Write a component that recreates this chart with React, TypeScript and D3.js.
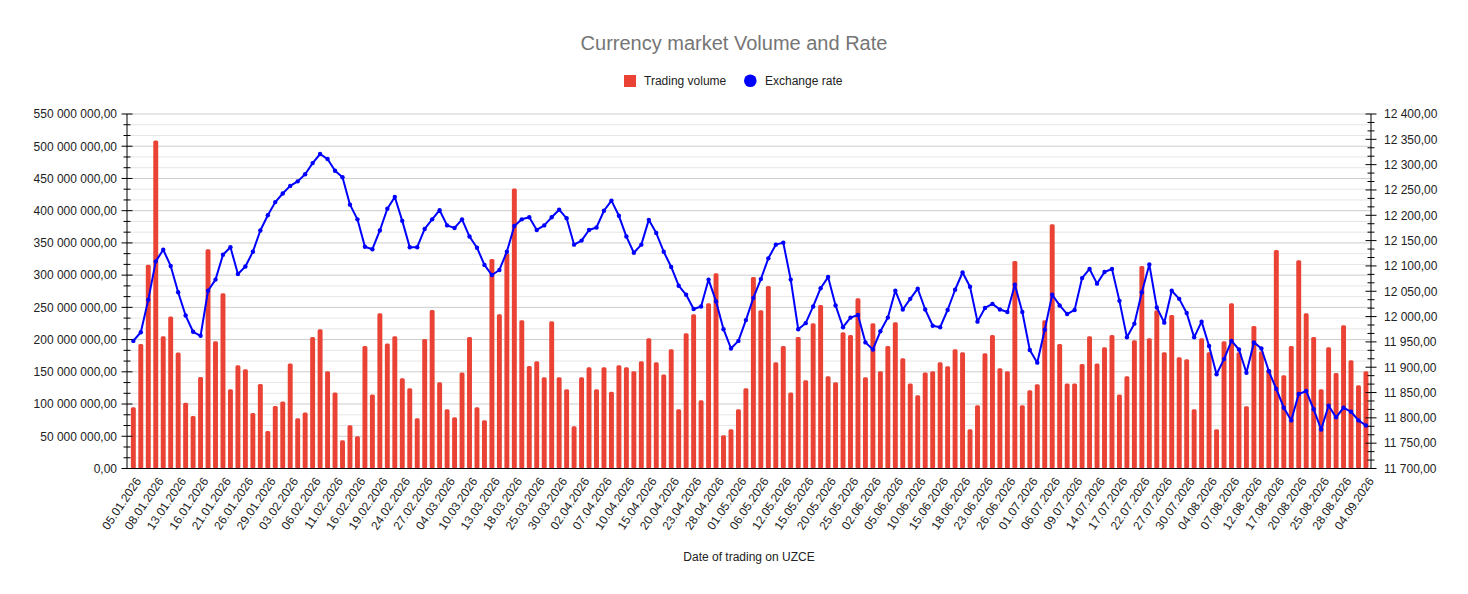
import React, { useEffect, useRef } from "react";
import * as d3 from "d3";

const tradeDates = [
  "05.01.2026", "06.01.2026", "07.01.2026", "08.01.2026", "09.01.2026", "12.01.2026",
  "13.01.2026", "14.01.2026", "15.01.2026", "16.01.2026", "19.01.2026", "20.01.2026",
  "21.01.2026", "22.01.2026", "23.01.2026", "26.01.2026", "27.01.2026", "28.01.2026",
  "29.01.2026", "30.01.2026", "02.02.2026", "03.02.2026", "04.02.2026", "05.02.2026",
  "06.02.2026", "09.02.2026", "10.02.2026", "11.02.2026", "12.02.2026", "13.02.2026",
  "16.02.2026", "17.02.2026", "18.02.2026", "19.02.2026", "20.02.2026", "23.02.2026",
  "24.02.2026", "25.02.2026", "26.02.2026", "27.02.2026", "02.03.2026", "03.03.2026",
  "04.03.2026", "05.03.2026", "06.03.2026", "10.03.2026", "11.03.2026", "12.03.2026",
  "13.03.2026", "16.03.2026", "17.03.2026", "18.03.2026", "19.03.2026", "24.03.2026",
  "25.03.2026", "26.03.2026", "27.03.2026", "30.03.2026", "31.03.2026", "01.04.2026",
  "02.04.2026", "03.04.2026", "06.04.2026", "07.04.2026", "08.04.2026", "09.04.2026",
  "10.04.2026", "13.04.2026", "14.04.2026", "15.04.2026", "16.04.2026", "17.04.2026",
  "20.04.2026", "21.04.2026", "22.04.2026", "23.04.2026", "24.04.2026", "27.04.2026",
  "28.04.2026", "29.04.2026", "30.04.2026", "01.05.2026", "04.05.2026", "05.05.2026",
  "06.05.2026", "07.05.2026", "08.05.2026", "12.05.2026", "13.05.2026", "14.05.2026",
  "15.05.2026", "18.05.2026", "19.05.2026", "20.05.2026", "21.05.2026", "22.05.2026",
  "25.05.2026", "26.05.2026", "01.06.2026", "02.06.2026", "03.06.2026", "04.06.2026",
  "05.06.2026", "08.06.2026", "09.06.2026", "10.06.2026", "11.06.2026", "12.06.2026",
  "15.06.2026", "16.06.2026", "17.06.2026", "18.06.2026", "19.06.2026", "22.06.2026",
  "23.06.2026", "24.06.2026", "25.06.2026", "26.06.2026", "29.06.2026", "30.06.2026",
  "01.07.2026", "02.07.2026", "03.07.2026", "06.07.2026", "07.07.2026", "08.07.2026",
  "09.07.2026", "10.07.2026", "13.07.2026", "14.07.2026", "15.07.2026", "16.07.2026",
  "17.07.2026", "20.07.2026", "21.07.2026", "22.07.2026", "23.07.2026", "24.07.2026",
  "27.07.2026", "28.07.2026", "29.07.2026", "30.07.2026", "31.07.2026", "03.08.2026",
  "04.08.2026", "05.08.2026", "06.08.2026", "07.08.2026", "10.08.2026", "11.08.2026",
  "12.08.2026", "13.08.2026", "14.08.2026", "17.08.2026", "18.08.2026", "19.08.2026",
  "20.08.2026", "21.08.2026", "24.08.2026", "25.08.2026", "26.08.2026", "27.08.2026",
  "28.08.2026", "02.09.2026", "03.09.2026", "04.09.2026",
];

// trading volume, millions of UZS
const volumeMln = [
  95, 193, 316, 509, 205, 236, 180, 102, 81.5, 142, 340, 197.5, 272, 123, 160, 154,
  86, 131, 58, 97, 104, 163, 78, 87, 204, 216, 151, 118, 44, 67, 50, 190,
  115, 241, 194, 205, 140, 124.5, 78, 201, 246, 134, 92, 79.5, 149, 204, 95, 75,
  325, 239.5, 334, 434.5, 230, 159, 166.5, 141.6, 228.6, 141.6, 123, 65.5, 141.6, 157, 123, 157,
  119, 160, 157, 151, 166.5, 202, 165, 146, 185, 92, 210, 239.5, 106, 256.5, 303, 51.6,
  61, 92, 124.5, 297, 245.7, 283, 165, 190, 118, 204, 137, 225.5, 253.5, 143, 134, 211.5, 207,
  264, 141.6, 225.5, 151, 190, 227, 171, 132, 113.7, 149, 151, 165, 158.7, 185, 180.5, 61,
  98, 179, 207, 155.6, 151, 322, 98, 121.4, 130.8, 230, 379, 193, 132, 132, 162, 205,
  163, 188, 207, 115, 143, 199, 314, 202, 245.7, 180.5, 238, 172.7, 169.6, 92, 202, 180.5, 61,
  197.5, 256.5, 180.5, 96.6, 221, 182, 154, 339, 144.7, 190, 323, 241, 204, 123, 188, 148,
  222.4, 168, 129, 151,
];

const rate = [
  11952, 11969, 12033, 12109, 12132, 12100, 12048, 12002, 11970, 11962, 12051, 12073,
  12122, 12137, 12084, 12099, 12128, 12170, 12200, 12226, 12243, 12258, 12267, 12281,
  12303, 12321, 12311, 12288, 12275, 12221, 12192, 12138,
  12133, 12170, 12213, 12236, 12189, 12137, 12137, 12173, 12192, 12210, 12180, 12175,
  12192, 12158, 12136, 12102, 12082, 12092, 12128, 12179, 12192, 12196, 12171, 12180,
  12196, 12211, 12194, 12142, 12150, 12171, 12176, 12209,
  12229, 12199, 12158, 12126, 12142, 12191, 12165, 12128, 12098, 12061, 12043, 12015,
  12020, 12073, 12030, 11975, 11937, 11952, 11993, 12037, 12074, 12115, 12142, 12146,
  12073, 11975, 11987, 12020, 12056, 12078, 12022, 11979, 11998,
  12003, 11949, 11935, 11971, 11998, 12051, 12014, 12035, 12055, 12014, 11982, 11979,
  12013, 12053, 12087, 12059, 11990, 12017, 12025, 12014, 12009, 12063, 12009, 11934,
  11909, 11974, 12043, 12022, 12005, 12013, 12076, 12094,
  12065, 12088, 12094, 12031, 11959, 11986, 12048, 12103, 12018, 11988, 12051, 12035,
  12007, 11959, 11990, 11942, 11886, 11916, 11952, 11935, 11889, 11949, 11937, 11892,
  11857, 11820, 11795, 11847, 11853, 11817, 11777, 11824, 11801, 11820, 11812, 11795, 11785,
];

const volumeTicks = [0, 50, 100, 150, 200, 250, 300, 350, 400, 450, 500, 550].map((v) => v * 1e6);
const rateTicks = [11700, 11750, 11800, 11850, 11900, 11950, 12000, 12050, 12100, 12150, 12200, 12250, 12300, 12350, 12400];

const W = 1468;
const H = 594;
const FONT = "'Liberation Sans', Arial, sans-serif";

const locale = d3.formatLocale({ decimal: ",", thousands: "\u00a0", grouping: [3], currency: ["", ""] });
const fmt = locale.format(",.2f");

export default function App() {
  const svgRef = useRef<SVGSVGElement>(null);

  useEffect(() => {
    const svg = d3.select(svgRef.current);
    svg.selectAll("*").remove();

    const left = 127;
    const right = 1371;
    const top = 114;
    const bottom = 468.5;

    const x = d3.scaleBand<string>().domain(tradeDates).range([129.6, 1369.7]).paddingInner(0.34).paddingOuter(0.17);
    const yVol = d3.scaleLinear().domain([0, 550e6]).range([bottom, top]);
    const yRate = d3.scaleLinear().domain([11700, 12400]).range([bottom, top]);

    // grid: majors darker, thirds lighter
    const grid = svg.append("g");
    const minor: number[] = [];
    for (let i = 0; i < volumeTicks.length - 1; i++) {
      const step = (volumeTicks[i + 1] - volumeTicks[i]) / 3;
      minor.push(volumeTicks[i] + step, volumeTicks[i] + 2 * step);
    }
    grid.selectAll(".minor").data(minor).enter().append("line")
      .attr("x1", left).attr("x2", right)
      .attr("y1", (d) => yVol(d)).attr("y2", (d) => yVol(d))
      .attr("stroke", "#e6e6e6").attr("stroke-width", 1);
    grid.selectAll(".major").data(volumeTicks.slice(1)).enter().append("line")
      .attr("x1", left).attr("x2", right)
      .attr("y1", (d) => yVol(d)).attr("y2", (d) => yVol(d))
      .attr("stroke", "#cccccc").attr("stroke-width", 1);

    // bars
    const bars = volumeMln.map((v, i) => ({ date: tradeDates[i], value: v * 1e6 }));
    svg.append("g").selectAll("rect").data(bars).enter().append("rect")
      .attr("x", (d) => x(d.date)!)
      .attr("y", (d) => yVol(d.value))
      .attr("width", x.bandwidth())
      .attr("height", (d) => bottom - yVol(d.value))
      .attr("rx", 1.5)
      .attr("fill", "#ea4335");

    // rate line
    const pts = rate.map((v, i) => ({ date: tradeDates[i], value: v }));
    const cx = (d: any) => x(d.date)! + x.bandwidth() / 2;
    const line = d3.line<any>().x(cx).y((d) => yRate(d.value));
    svg.append("path").datum(pts)
      .attr("d", line)
      .attr("fill", "none")
      .attr("stroke", "#0000ff")
      .attr("stroke-width", 2)
      .attr("stroke-linejoin", "round");
    svg.append("g").selectAll("circle").data(pts).enter().append("circle")
      .attr("cx", cx).attr("cy", (d) => yRate(d.value))
      .attr("r", 2.2).attr("fill", "#0000ff");

    // left axis
    const la = svg.append("g");
    la.append("line").attr("x1", left).attr("x2", left).attr("y1", top).attr("y2", bottom).attr("stroke", "#000");
    la.selectAll(".mt").data(minor).enter().append("line")
      .attr("x1", left - 3.5).attr("x2", left + 3.5)
      .attr("y1", (d) => yVol(d)).attr("y2", (d) => yVol(d)).attr("stroke", "#000");
    la.selectAll(".Mt").data(volumeTicks).enter().append("line")
      .attr("x1", left - 5.5).attr("x2", left + 5.5)
      .attr("y1", (d) => yVol(d)).attr("y2", (d) => yVol(d)).attr("stroke", "#000");
    la.selectAll("text").data(volumeTicks).enter().append("text")
      .attr("x", 117).attr("y", (d) => yVol(d) + 4.3)
      .attr("text-anchor", "end")
      .attr("font-family", FONT).attr("font-size", 12).attr("fill", "#222")
      .text((d) => fmt(d));

    // right axis
    const rMinor: number[] = [];
    for (let i = 0; i < rateTicks.length - 1; i++) {
      const step = (rateTicks[i + 1] - rateTicks[i]) / 3;
      rMinor.push(rateTicks[i] + step, rateTicks[i] + 2 * step);
    }
    const ra = svg.append("g");
    ra.append("line").attr("x1", right).attr("x2", right).attr("y1", top).attr("y2", bottom).attr("stroke", "#000");
    ra.selectAll(".mt").data(rMinor).enter().append("line")
      .attr("x1", right - 3.5).attr("x2", right + 3.5)
      .attr("y1", (d) => yRate(d)).attr("y2", (d) => yRate(d)).attr("stroke", "#000");
    ra.selectAll(".Mt").data(rateTicks).enter().append("line")
      .attr("x1", right - 5.5).attr("x2", right + 5.5)
      .attr("y1", (d) => yRate(d)).attr("y2", (d) => yRate(d)).attr("stroke", "#000");
    ra.selectAll("text").data(rateTicks).enter().append("text")
      .attr("x", 1384).attr("y", (d) => yRate(d) + 4.3)
      .attr("text-anchor", "start")
      .attr("font-family", FONT).attr("font-size", 12).attr("fill", "#222")
      .text((d) => fmt(d));

    // bottom axis
    svg.append("line").attr("x1", left).attr("x2", right).attr("y1", bottom).attr("y2", bottom).attr("stroke", "#000");
    const labelled = tradeDates.filter((_, i) => i % 3 === 0);
    svg.append("g").selectAll("text").data(labelled).enter().append("text")
      .attr("transform", (d) => `translate(${x(d)! + x.bandwidth() / 2 + 5},${bottom + 10}) rotate(-56)`)
      .attr("text-anchor", "end")
      .attr("dy", "0.35em")
      .attr("font-family", FONT).attr("font-size", 12).attr("fill", "#222")
      .text((d) => d);

    svg.append("text")
      .attr("x", (left + right) / 2).attr("y", 561)
      .attr("text-anchor", "middle")
      .attr("font-family", FONT).attr("font-size", 12).attr("fill", "#222")
      .text("Date of trading on UZCE");

    // title + legend
    svg.append("text")
      .attr("x", W / 2).attr("y", 50)
      .attr("text-anchor", "middle")
      .attr("font-family", FONT).attr("font-size", 20).attr("fill", "#757575")
      .text("Currency market Volume and Rate");

    const lg = svg.append("g").attr("font-family", FONT).attr("font-size", 12).attr("fill", "#222");
    lg.append("rect").attr("x", 624).attr("y", 75).attr("width", 12).attr("height", 12).attr("fill", "#ea4335");
    lg.append("text").attr("x", 644).attr("y", 85).text("Trading volume");
    lg.append("circle").attr("cx", 750.3).attr("cy", 80.7).attr("r", 6.3).attr("fill", "#0000ff");
    lg.append("text").attr("x", 765).attr("y", 85).text("Exchange rate");
  }, []);

  return (
    <div style={{ position: "absolute", left: 0, top: 0 }}>
      <svg ref={svgRef} width={W} height={H} style={{ display: "block", background: "#fff" }} />
    </div>
  );
}
